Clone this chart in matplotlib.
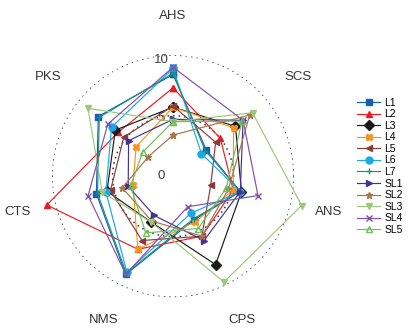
import matplotlib
matplotlib.use("Agg")
import matplotlib.pyplot as plt
import numpy as np

plt.rcParams['font.family'] = ['Liberation Sans', 'DejaVu Sans']

# axes of the radar, clockwise from the top
labels = ['AHS', 'SCS', 'ANS', 'CPS', 'NMS', 'CTS', 'PKS']

# values (AHS, SCS, ANS, CPS, NMS, CTS, PKS)
L1 = [8.4, 3.5, 5.7, 4.0, 9.0, 6.5, 7.9]
L2 = [7.3, 5.0, 5.1, 5.5, 6.7, 10.7, 5.8]
L3 = [5.7, 6.6, 5.8, 8.1, 4.2, 5.6, 6.1]
L4 = [5.7, 6.4, 5.1, 4.2, 6.7, 3.4, 3.9]
L5 = [5.8, 4.5, 3.2, 5.5, 5.9, 5.3, 5.2]
L6 = [8.9, 3.0, 5.7, 3.4, 8.8, 5.7, 6.5]
L7 = [8.5, 3.4, 5.7, 3.9, 8.9, 6.4, 7.8]
SL1 = [4.7, 7.4, 5.7, 5.9, 3.6, 3.8, 4.7]
SL2 = [3.4, 8.1, 4.7, 5.5, 4.1, 4.3, 2.6]
SL3 = [4.5, 8.4, 10.9, 9.7, 4.2, 6.0, 9.0]
SL4 = [9.0, 7.4, 7.2, 2.8, 9.0, 7.2, 6.9]
SL5 = [4.5, 7.3, 4.5, 4.8, 5.2, 3.6, 3.2]

names = ['L1', 'L2', 'L3', 'L4', 'L5', 'L6', 'L7', 'SL1', 'SL2', 'SL3', 'SL4', 'SL5']
series = [L1, L2, L3, L4, L5, L6, L7, SL1, SL2, SL3, SL4, SL5]
colors = ['#1660b0', '#ec1c24', '#1a1a1a', '#f7941d', '#8c3b3b', '#1ba8e8',
          '#1f8f80', '#47318f', '#a8744a', '#9dc77c', '#8050a8', '#6cc05c']
markers = ['s', '^', 'D', 'X', '<', 'o', '+', '>', '*', 'v', 'x', '^']

n = len(labels)
theta = np.pi/2 - np.arange(n) * 2*np.pi/n
theta_c = np.append(theta, theta[0])

fig = plt.figure(figsize=(4.13, 3.34), dpi=100)
ax = fig.add_axes([0.126, 0.110, 0.586, 0.725], projection='polar')
ax.set_aspect('auto')
ax.set_ylim(0, 10)
ax.grid(False)
ax.spines['polar'].set_visible(False)
ax.set_xticks([])
ax.set_yticks([])

# dotted rings
ring = np.linspace(0, 2*np.pi, 300)
for rr in [5, 10]:
    ax.plot(ring, np.full_like(ring, rr), color='#333333', lw=1.1,
            linestyle=(0, (1, 2.6)), zorder=1)

handles = []
for vals, name, c, m in zip(series, names, colors, markers):
    v = np.append(vals, vals[0])
    face = 'none' if name == 'SL5' else c
    h, = ax.plot(theta_c, v, color=c, lw=0.85, marker=m, markersize=5,
                 markerfacecolor=face, markeredgecolor=c, markeredgewidth=1.0,
                 clip_on=False, label=name, zorder=3)
    handles.append(h)

# radial tick labels along the top axis
for rv in [0, 5, 10]:
    x, y = -1.0, rv * 0.96
    ax.text(np.arctan2(y, x), np.hypot(x, y), str(rv), fontsize=9.5,
            color='#404040', ha='center', va='center', zorder=2)

# category labels
for t, lab in zip(theta, labels):
    ax.text(t, 13.2, lab, fontsize=9.5, color='#333333', ha='center', va='center')

fig.legend(handles=handles, loc='upper left', bbox_to_anchor=(0.855, 0.72),
           frameon=False, fontsize=7.5, handlelength=2.2, labelspacing=0.15,
           handletextpad=0.4, borderaxespad=0)

fig.savefig('out.png', dpi=100)
